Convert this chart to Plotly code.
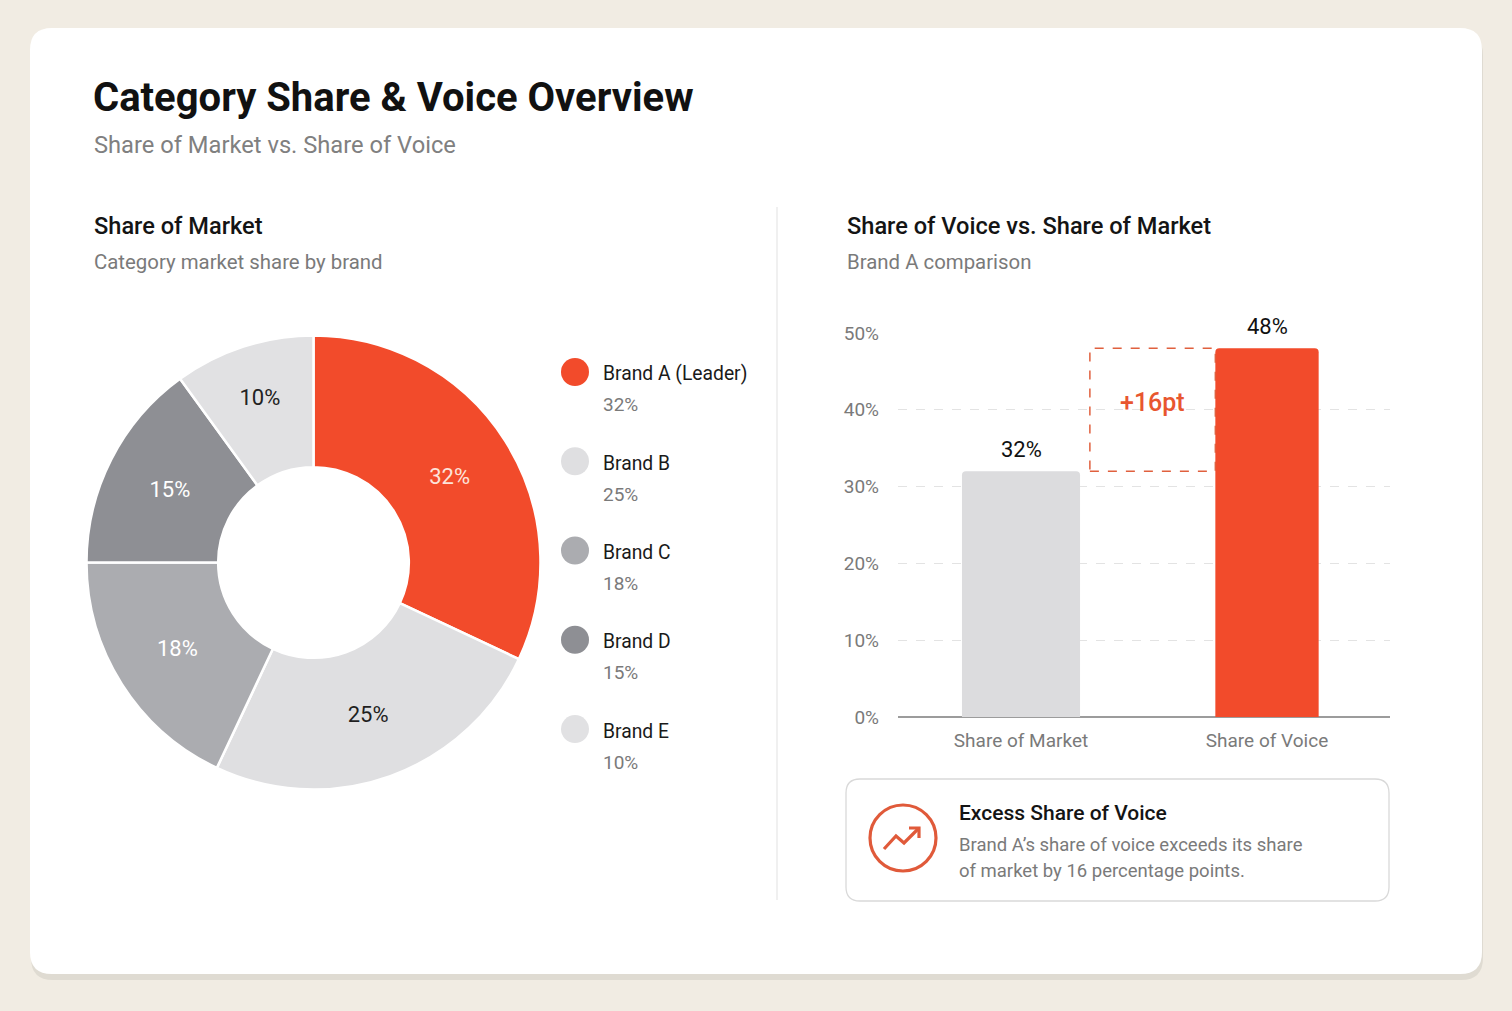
import plotly.graph_objects as go

W, H = 1512, 1011
FONT = "Roboto"

# ---------------- data ----------------
brands = ["Brand A (Leader)", "Brand B", "Brand C", "Brand D", "Brand E"]
market_share = [32, 25, 18, 15, 10]
brand_colors = ["#F24B2B", "#DFDFE1", "#ABACB0", "#8E8F94", "#E1E1E3"]
slice_text_colors = ["#FDE3DA", "#1F1F1F", "#FFFFFF", "#FFFFFF", "#222222"]

bar_categories = ["Share of Market", "Share of Voice"]
bar_values = [32, 48]
bar_colors = ["#DCDCDE", "#F24B2B"]
y_ticks = [0, 10, 20, 30, 40, 50]

title = "Category Share & Voice Overview"
subtitle = "Share of Market vs. Share of Voice"


def px(x):
    return x / W


def py(y):
    return 1 - y / H


def rrect(x0, y0, x1, y1, r):
    pts = [
        ("M", [(x0 + r, y0)]), ("L", [(x1 - r, y0)]), ("Q", [(x1, y0), (x1, y0 + r)]),
        ("L", [(x1, y1 - r)]), ("Q", [(x1, y1), (x1 - r, y1)]), ("L", [(x0 + r, y1)]),
        ("Q", [(x0, y1), (x0, y1 - r)]), ("L", [(x0, y0 + r)]), ("Q", [(x0, y0), (x0 + r, y0)]),
    ]
    s = ""
    for cmd, ps in pts:
        s += cmd + " " + " ".join(f"{px(a):.5f},{py(b):.5f}" for a, b in ps) + " "
    return s + "Z"


fig = go.Figure()

# ---------------- donut ----------------
pie_cx, pie_cy, pie_r = 313.5, 562.5, 227
fig.add_trace(go.Pie(
    labels=brands,
    values=market_share,
    text=[f"{v}%" for v in market_share],
    textinfo="text",
    textposition="inside",
    insidetextorientation="horizontal",
    textfont=dict(family=FONT, size=22, color=slice_text_colors),
    marker=dict(colors=brand_colors, line=dict(color="#FFFFFF", width=2.5)),
    hole=0.42,
    sort=False,
    direction="clockwise",
    rotation=0,
    showlegend=False,
    automargin=False,
    domain=dict(x=[px(pie_cx - pie_r), px(pie_cx + pie_r)],
                y=[py(pie_cy + pie_r), py(pie_cy - pie_r)]),
    hoverinfo="label+percent",
))

# ---------------- bars ----------------
bar_widths = [0.48, 0.42]
fig.add_trace(go.Bar(
    x=bar_categories,
    y=bar_values,
    width=bar_widths,
    marker=dict(color=bar_colors, cornerradius=4, line=dict(width=0)),
    xaxis="x2", yaxis="y2",
    showlegend=False,
    hoverinfo="x+y",
))

# ---------------- legend (scatter on its own axes) ----------------
fig.add_trace(go.Scatter(
    x=[14] * len(brands),
    y=list(range(len(brands))),
    mode="markers",
    marker=dict(size=28, color=brand_colors, line=dict(width=0)),
    xaxis="x3", yaxis="y3",
    showlegend=False,
    hoverinfo="skip",
))

annotations = []
for i, (b, v) in enumerate(zip(brands, market_share)):
    annotations.append(dict(x=40, y=i, xref="x3", yref="y3", text=b, showarrow=False,
                            xanchor="left", yanchor="middle", yshift=-2,
                            font=dict(family=FONT, size=19.3, color="#1A1A1A")))
    annotations.append(dict(x=40, y=i, xref="x3", yref="y3", text=f"{v}%", showarrow=False,
                            xanchor="left", yanchor="middle", yshift=-33,
                            font=dict(family=FONT, size=19, color="#7A7A7A")))

# bar value labels
for c, v in zip(bar_categories, bar_values):
    annotations.append(dict(x=c, y=v, xref="x2", yref="y2", text=f"{v}%", showarrow=False,
                            xanchor="center", yanchor="bottom", yshift=7,
                            font=dict(family=FONT, size=22, color="#111111")))

# gap annotation
gap = bar_values[1] - bar_values[0]
gx0 = 0 + bar_widths[0] / 2 + 0.04
gx1 = 1 - bar_widths[1] / 2
annotations.append(dict(x=(gx0 + gx1) / 2, y=(bar_values[0] + bar_values[1]) / 2, xref="x2", yref="y2",
                        text=f"+{gap}pt", showarrow=False, xanchor="center", yanchor="middle", yshift=7,
                        font=dict(family=FONT, size=25, color="#E8562F", weight=500)))

# texts
def txt(x, y, t, size, color, weight=400):
    annotations.append(dict(x=px(x), y=py(y), xref="paper", yref="paper", text=t, showarrow=False,
                            xanchor="left", yanchor="middle",
                            font=dict(family=FONT, size=size, color=color, weight=weight)))


txt(91, 98, title, 40, "#111111", 700)
txt(92, 145, subtitle, 23.7, "#808080")
txt(92, 226, "Share of Market", 23.6, "#141414", 500)
txt(92, 262, "Category market share by brand", 20.4, "#7A7A7A")
txt(845, 226, "Share of Voice vs. Share of Market", 23.6, "#141414", 500)
txt(845, 262, "Brand A comparison", 20.4, "#7A7A7A")
txt(957, 813, "Excess Share of Voice", 21, "#141414", 500)
txt(957, 845, "Brand A’s share of voice exceeds its share", 18.5, "#7A7A7A")
txt(957, 871, "of market by 16 percentage points.", 18.5, "#7A7A7A")

# ---------------- shapes ----------------
shapes = [
    dict(type="rect", xref="paper", yref="paper", x0=0, y0=0, x1=1, y1=1,
         fillcolor="#F1ECE3", line=dict(width=0), layer="below"),
    dict(type="path", xref="paper", yref="paper", path=rrect(31, 33, 1483, 980, 22),
         fillcolor="#DFDBD2", line=dict(width=0), layer="below"),
    dict(type="path", xref="paper", yref="paper", path=rrect(30, 28, 1482, 974, 22),
         fillcolor="#FFFFFF", line=dict(width=0), layer="below"),
    dict(type="line", xref="paper", yref="paper", x0=px(777), x1=px(777), y0=py(207), y1=py(900),
         line=dict(color="#E6E6E6", width=1.2)),
    # gap box
    dict(type="rect", xref="x2", yref="y2", x0=gx0, x1=gx1, y0=bar_values[0], y1=bar_values[1],
         line=dict(color="#E0603E", width=1.5, dash="dash"), fillcolor="rgba(0,0,0,0)"),
    # callout card
    dict(type="path", xref="paper", yref="paper", path=rrect(846, 779, 1389, 901, 14),
         fillcolor="#FFFFFF", line=dict(color="#D9D9D9", width=1.3)),
    # icon circle
    dict(type="circle", xref="paper", yref="paper", x0=px(870), x1=px(936), y0=py(871), y1=py(805),
         line=dict(color="#E05A3A", width=3.2), fillcolor="rgba(0,0,0,0)"),
    # trend arrow
    dict(type="path", xref="paper", yref="paper",
         path=f"M {px(884)},{py(849)} L {px(896)},{py(836)} L {px(904)},{py(843)} L {px(918)},{py(829)}",
         line=dict(color="#E05A3A", width=3.2)),
    dict(type="path", xref="paper", yref="paper",
         path=f"M {px(909)},{py(828)} L {px(919)},{py(828)} L {px(919)},{py(838)}",
         line=dict(color="#E05A3A", width=3.2)),
]

axis_common = dict(automargin=False, fixedrange=True)

fig.update_layout(
    width=W, height=H,
    autosize=False,
    margin=dict(l=0, r=0, t=0, b=0, pad=0, autoexpand=False),
    paper_bgcolor="#F1ECE3",
    plot_bgcolor="rgba(0,0,0,0)",
    font=dict(family=FONT),
    showlegend=False,
    xaxis=dict(visible=False, **axis_common),
    yaxis=dict(visible=False, **axis_common),
    xaxis2=dict(domain=[px(898), px(1390)], anchor="y2", range=[-0.5, 1.5],
                showgrid=False, zeroline=False, showline=False, ticks="",
                tickfont=dict(family=FONT, size=19, color="#7A7A7A"), ticklabelstandoff=10,
                **axis_common),
    yaxis2=dict(domain=[py(717), py(333)], anchor="x2", range=[0, 50],
                tickvals=y_ticks, ticktext=[f"{t}%" for t in y_ticks],
                showgrid=True, gridcolor="#E3E3E3", griddash="dash", gridwidth=1,
                zeroline=True, zerolinecolor="#9C9C9C", zerolinewidth=1.5,
                showline=False, ticks="", ticklabelstandoff=18,
                tickfont=dict(family=FONT, size=19, color="#7A7A7A"), **axis_common),
    xaxis3=dict(domain=[px(561), px(761)], anchor="y3", range=[0, 200], visible=False, **axis_common),
    yaxis3=dict(domain=[py(780), py(340)], anchor="x3", range=[4.571, -0.3585], visible=False, **axis_common),
    shapes=shapes,
    annotations=annotations,
)

fig.write_html("out.html", config={"displayModeBar": False, "responsive": False},
               post_script="document.body.style.margin='0';document.body.style.overflow='hidden';")
